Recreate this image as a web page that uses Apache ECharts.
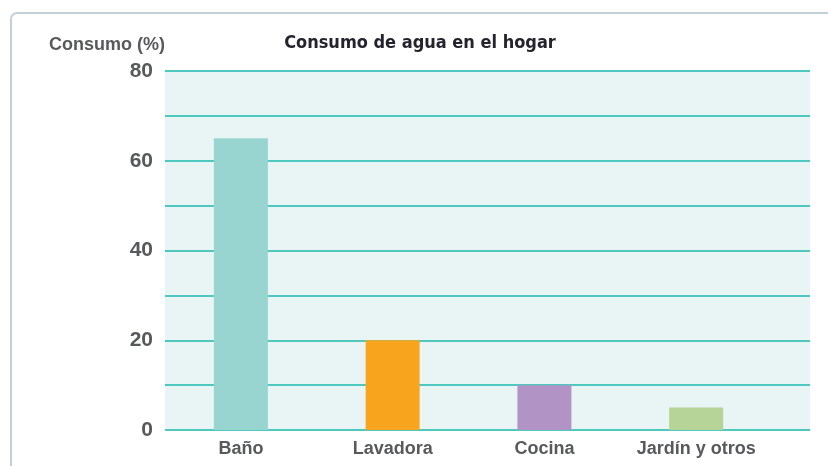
<!DOCTYPE html>
<html lang="es">
<head>
<meta charset="UTF-8">
<title>Consumo de agua en el hogar</title>
<script src="https://cdn.jsdelivr.net/npm/echarts@6/dist/echarts.min.js"></script>
<style>
  html, body { margin: 0; padding: 0; background: #ffffff; }
  #container { width: 828px; height: 466px; }
</style>
</head>
<body>
<div id="container"></div>
<script>
// datos
var categorias = ['Baño', 'Lavadora', 'Cocina', 'Jardín y otros'];
var consumo = [65, 20, 10, 5];
var colores = ['#98d5d1', '#f8a51d', '#b193c5', '#b6d398'];
var posiciones = [0, 1, 2, 3];

var chart = echarts.init(document.getElementById('container'));

var barras = [];
for (var i = 0; i < consumo.length; i++) {
    barras.push({
        value: [posiciones[i], consumo[i]],
        itemStyle: { color: colores[i] }
    });
}

var gris = '#58595b';

var option = {
    backgroundColor: '#ffffff',
    animation: false,
    title: [{
        text: 'Consumo de agua en el hogar',
        left: 415,
        top: 29,
        textAlign: 'center',
        textStyle: {
            fontFamily: 'DejaVu Sans Condensed',
            fontWeight: 'bold',
            fontSize: 18,
            color: '#25242e'
        }
    }, {
        // nombre del eje y
        text: 'Consumo (%)',
        left: 160,
        top: 31,
        textAlign: 'right',
        textStyle: {
            fontFamily: 'Liberation Sans',
            fontWeight: 'bold',
            fontSize: 18,
            color: gris
        }
    }],
    graphic: [{
        type: 'rect',
        shape: { x: 11, y: 13, width: 900, height: 600, r: 6 },
        style: { fill: 'none', stroke: '#c3cfd9', lineWidth: 2 },
        z: 0
    }],
    grid: {
        left: 165,
        right: 18,
        top: 71,
        bottom: 36,
        show: true,
        backgroundColor: '#e8f5f4',
        borderWidth: 0
    },
    xAxis: {
        type: 'value',
        min: -0.5,
        max: 3.75,
        splitLine: { show: false },
        axisLine: { show: false },
        axisTick: { show: false },
        axisLabel: {
            customValues: posiciones,
            formatter: function (v) { return categorias[v]; },
            color: gris,
            fontFamily: 'Liberation Sans',
            fontWeight: 'bold',
            fontSize: 18,
            margin: 10
        }
    },
    yAxis: {
        type: 'value',
        min: 0,
        max: 80,
        interval: 10,
        axisLine: { show: false },
        axisTick: { show: false },
        axisLabel: {
            formatter: function (v) { return v % 20 === 0 ? v : ''; },
            color: gris,
            fontFamily: 'Liberation Sans',
            fontWeight: 'bold',
            fontSize: 21,
            margin: 12
        },
        splitLine: {
            lineStyle: { color: '#4fc9bf', width: 2 }
        }
    },
    series: [{
        type: 'bar',
        barWidth: 54,
        data: barras
    }]
};

chart.setOption(option);
</script>
</body>
</html>
